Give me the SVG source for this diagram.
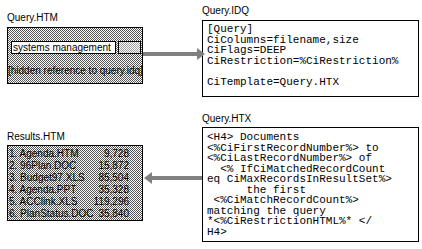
<svg xmlns="http://www.w3.org/2000/svg" width="422" height="249" viewBox="0 0 422 249">
  <style>
    .label { font-family: "Liberation Sans", Arial, sans-serif; font-size: 10px; fill: #000; }
    .ui { font-family: "Liberation Sans", Arial, sans-serif; font-size: 10px; fill: #000; }
    .row { font-family: "Liberation Sans", Arial, sans-serif; font-size: 10px; fill: #000; }
    .code { font-family: "Liberation Mono", "Courier New", monospace; font-size: 11px; fill: #000; white-space: pre; }
    .frame { stroke: #000; stroke-width: 1; }
    .link { stroke: #808080; stroke-width: 4; fill: none; }
  </style>
  <defs>
    <!-- 2x2 dither used for the form backgrounds -->
    <pattern id="dither" width="2" height="2" patternUnits="userSpaceOnUse">
      <rect width="2" height="2" fill="#ffffff"/>
      <rect width="1" height="1" fill="#555555"/>
      <rect x="1" y="1" width="1" height="1" fill="#555555"/>
    </pattern>
    <pattern id="ditherLight" width="2" height="2" patternUnits="userSpaceOnUse">
      <rect width="2" height="2" fill="#ffffff"/>
      <rect width="1" height="1" fill="#a0a0a0"/>
      <rect x="1" y="1" width="1" height="1" fill="#a0a0a0"/>
    </pattern>
    <!-- arrowhead starts where the shaft ends -->
    <marker id="head" markerUnits="userSpaceOnUse" markerWidth="9" markerHeight="12" refX="0" refY="6" orient="auto">
      <polygon points="0,0 8,6 0,12" fill="#808080"/>
    </marker>
  </defs>

  <!-- Search form page -->
  <g id="query-htm">
    <text class="label" x="7" y="21">Query.HTM</text>
    <rect class="frame" x="7.5" y="27.5" width="135" height="56" fill="url(#dither)"/>
    <rect class="frame" x="11.5" y="41.5" width="104" height="12" fill="#ffffff"/>
    <text class="ui" x="13" y="50.5">systems management</text>
    <rect class="frame" x="118.5" y="41.5" width="22" height="12" fill="url(#ditherLight)"/>
    <text class="ui" x="8" y="74">[hidden reference to query.idq]</text>
  </g>

  <!-- Query parameter file -->
  <g id="query-idq">
    <text class="label" x="202" y="14">Query.IDQ</text>
    <rect class="frame" x="202.5" y="20.5" width="216" height="76" fill="#ffffff"/>
    <text class="code" x="207" y="32">[Query]</text>
    <text class="code" x="207" y="42.5">CiColumns=filename,size</text>
    <text class="code" x="207" y="53">CiFlags=DEEP</text>
    <text class="code" x="207" y="63.5">CiRestriction=%CiRestriction%</text>
    <text class="code" x="207" y="84.5">CiTemplate=Query.HTX</text>
  </g>

  <!-- Results template -->
  <g id="query-htx">
    <text class="label" x="202" y="122">Query.HTX</text>
    <rect class="frame" x="202.5" y="127.5" width="216" height="114" fill="#ffffff"/>
    <text class="code" x="207" y="140">&lt;H4&gt; Documents</text>
    <text class="code" x="207" y="150.5">&lt;%CiFirstRecordNumber%&gt; to</text>
    <text class="code" x="207" y="161">&lt;%CiLastRecordNumber%&gt; of</text>
    <text class="code" x="207" y="171.5">  &lt;% IfCiMatchedRecordCount</text>
    <text class="code" x="207" y="182">eq CiMaxRecordsInResultSet%&gt;</text>
    <text class="code" x="207" y="192.5">      the first</text>
    <text class="code" x="207" y="203"> &lt;%CiMatchRecordCount%&gt;</text>
    <text class="code" x="207" y="213.5">matching the query</text>
    <text class="code" x="207" y="224">*&lt;%CiRestrictionHTML%* &lt;/</text>
    <text class="code" x="207" y="234.5">H4&gt;</text>
  </g>

  <!-- Results page -->
  <g id="results-htm">
    <text class="label" x="7" y="140">Results.HTM</text>
    <rect class="frame" x="7.5" y="145.5" width="135" height="75" fill="url(#dither)"/>
    <text class="row" x="9" y="157">1. Agenda.HTM</text>
    <text class="row" x="9" y="169">2. 96Plan.DOC</text>
    <text class="row" x="9" y="181">3. Budget97.XLS</text>
    <text class="row" x="9" y="193">4. Agenda.PPT</text>
    <text class="row" x="9" y="205">5. ACClink.XLS</text>
    <text class="row" x="9" y="217">6. PlanStatus.DOC</text>
    <g text-anchor="end">
      <text class="row" x="129" y="157">9,728</text>
      <text class="row" x="129" y="169">15,872</text>
      <text class="row" x="129" y="181">85,504</text>
      <text class="row" x="129" y="193">35,328</text>
      <text class="row" x="129" y="205">119,296</text>
      <text class="row" x="129" y="217">35,840</text>
    </g>
  </g>

  <g id="connectors">
    <line class="link" x1="143" y1="54" x2="197" y2="54" marker-end="url(#head)"/>
    <line class="link" x1="202" y1="178" x2="152" y2="178" marker-end="url(#head)"/>
  </g>
</svg>
